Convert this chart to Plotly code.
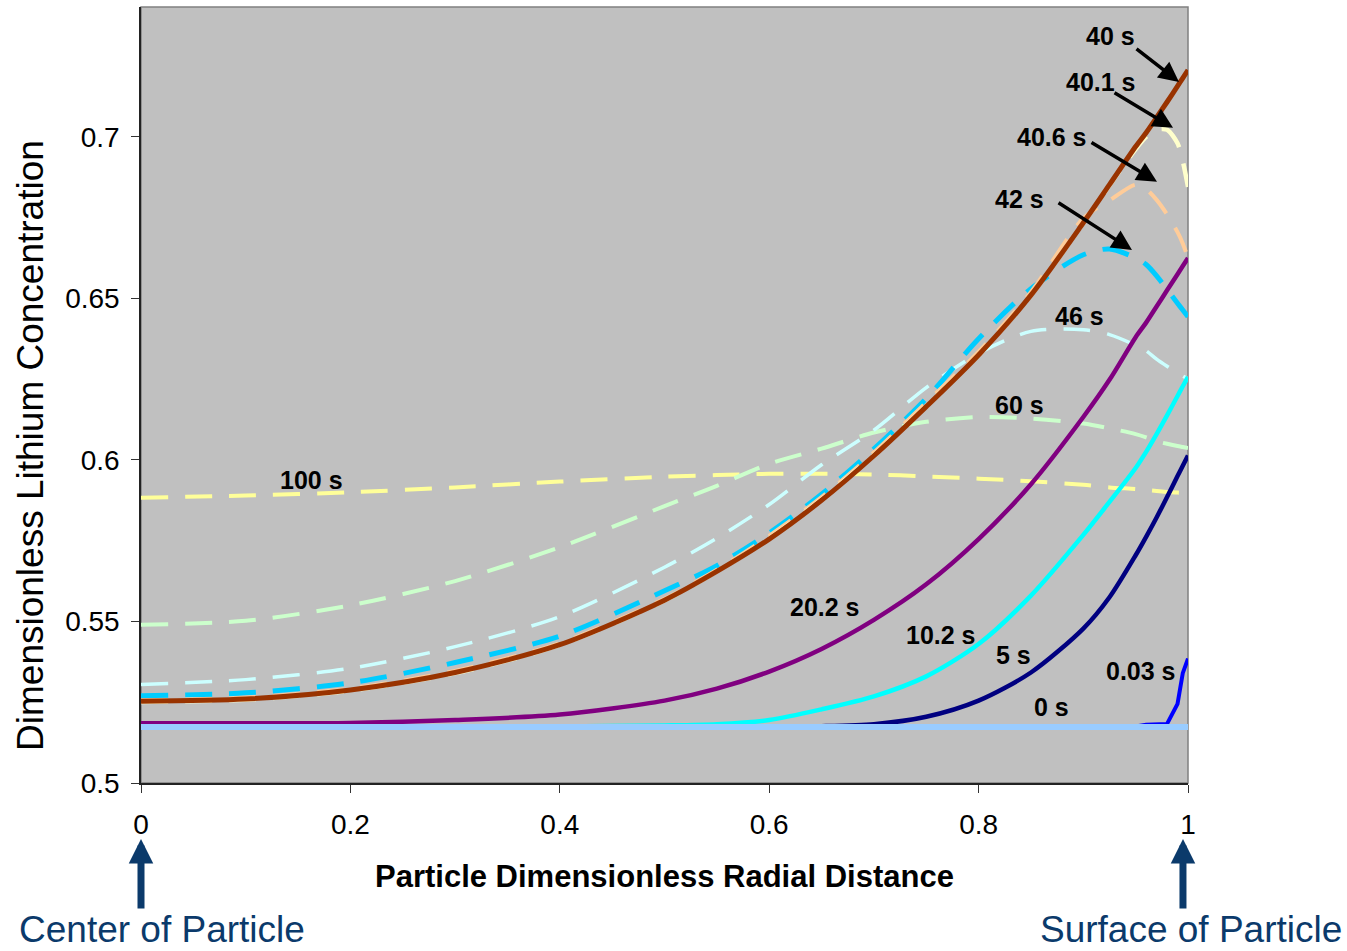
import plotly.graph_objects as go

# Particle dimensionless radial distance (shared grid)
r = [0, 0.1, 0.2, 0.3, 0.4, 0.5, 0.55, 0.6, 0.65, 0.7, 0.75, 0.8, 0.85, 0.9,
     0.925, 0.95, 0.96, 0.97, 0.98, 0.99, 0.995, 1.0]

# Dimensionless lithium concentration profiles
c_0s = [0.5173, 0.5173, 0.5173, 0.5173, 0.5173, 0.5173, 0.5173, 0.5173, 0.5173, 0.5173, 0.5173,
        0.5173, 0.5173, 0.5173, 0.5173, 0.5173, 0.5173, 0.5173, 0.5173, 0.5173, 0.5173, 0.5173]
c_003s = [0.5175, 0.5175, 0.5175, 0.5175, 0.5175, 0.5175, 0.5175, 0.5175, 0.5175, 0.5175, 0.5175,
          0.5175, 0.5175, 0.5175, 0.5175, 0.5175, 0.518, 0.5182, 0.5183, 0.5245, 0.534, 0.5385]
c_5s = [0.5175, 0.5175, 0.5175, 0.5175, 0.5175, 0.5175, 0.5175, 0.5175, 0.5176, 0.5182, 0.5205,
        0.5255, 0.5342, 0.5478, 0.5575, 0.5705, 0.5762, 0.5822, 0.5885, 0.595, 0.5982, 0.6014]
c_10s = [0.5175, 0.5175, 0.5175, 0.5175, 0.5175, 0.5178, 0.5182, 0.5195, 0.5228, 0.5268, 0.533,
         0.543, 0.558, 0.5768, 0.587, 0.5975, 0.6025, 0.608, 0.6138, 0.6198, 0.6228, 0.6257]
c_20s = [0.5185, 0.5185, 0.5186, 0.5195, 0.5212, 0.5255, 0.5292, 0.5345, 0.5415, 0.5505, 0.5615,
         0.5755, 0.5925, 0.6133, 0.6248, 0.638, 0.6425, 0.6475, 0.6525, 0.6575, 0.66, 0.6625]
c_40s = [0.5253, 0.526, 0.5288, 0.5342, 0.5428, 0.5566, 0.5655, 0.5755, 0.5875, 0.6013, 0.6165,
         0.6325, 0.651, 0.6734, 0.6852, 0.697, 0.7013, 0.706, 0.7108, 0.7157, 0.7182, 0.7207]
c_401s = [0.5251, 0.5258, 0.5286, 0.534, 0.5427, 0.5565, 0.5655, 0.5757, 0.5878, 0.6015, 0.6168,
          0.6325, 0.651, 0.6733, 0.685, 0.6962, 0.70, 0.7022, 0.7022, 0.698, 0.6925, 0.6845]
c_406s = [0.5256, 0.5264, 0.5292, 0.5347, 0.5433, 0.557, 0.566, 0.5765, 0.5885, 0.6023, 0.6178,
          0.6335, 0.652, 0.6748, 0.6803, 0.6852, 0.6838, 0.6805, 0.676, 0.6705, 0.667, 0.6625]
c_42s = [0.527, 0.5279, 0.531, 0.5373, 0.5455, 0.5595, 0.5673, 0.5774, 0.5894, 0.6034, 0.619,
         0.6375, 0.653, 0.6635, 0.6653, 0.6625, 0.6605, 0.657, 0.6528, 0.6485, 0.6464, 0.6443]
c_46s = [0.5305, 0.532, 0.5355, 0.5422, 0.5515, 0.5668, 0.5758, 0.5862, 0.5985, 0.6092, 0.6224,
         0.633, 0.6398, 0.6403, 0.6388, 0.6355, 0.6338, 0.6312, 0.629, 0.627, 0.626, 0.625]
c_60s = [0.549, 0.5502, 0.555, 0.5625, 0.573, 0.5857, 0.592, 0.5988, 0.6035, 0.6085, 0.6118,
         0.6133, 0.6128, 0.6113, 0.6098, 0.608, 0.607, 0.6058, 0.605, 0.6043, 0.604, 0.6037]
c_100s = [0.5883, 0.589, 0.59, 0.5915, 0.5933, 0.5948, 0.5953, 0.5957, 0.5957, 0.5955, 0.5949,
          0.5942, 0.5934, 0.5923, 0.5915, 0.591, 0.5907, 0.5904, 0.5901, 0.5899, 0.5898, 0.5897]

FONT = "Liberation Sans, Arial, sans-serif"
NAVY = "#0B3A6B"
DASH = "27px,17px"
SMOOTH = 0.8

fig = go.Figure()

dashed = [
    ("100 s", c_100s, "#FFFF99", 4),
    ("60 s", c_60s, "#CCFFCC", 4),
    ("46 s", c_46s, "#CCFFFF", 3.5),
    ("42 s", c_42s, "#00CCFF", 5),
    ("40.6 s", c_406s, "#FFCC99", 4),
    ("40.1 s", c_401s, "#FFFFCC", 4.5),
]
for name, vals, col, w in dashed:
    fig.add_trace(go.Scatter(x=r, y=vals, mode="lines", name=name,
                             line=dict(color=col, width=w, dash=DASH, shape="spline",
                                       smoothing=SMOOTH)))

solid = [
    ("40 s", c_40s, "#993300", 5, "spline"),
    ("20.2 s", c_20s, "#800080", 4.5, "spline"),
    ("10.2 s", c_10s, "#00FFFF", 4.5, "spline"),
    ("5 s", c_5s, "#000080", 4.5, "spline"),
    ("0.03 s", c_003s, "#0000FF", 4, "linear"),
    ("0 s", c_0s, "#99CCFF", 6, "linear"),
]
for name, vals, col, w, shp in solid:
    ln = dict(color=col, width=w, shape=shp)
    if shp == "spline":
        ln["smoothing"] = SMOOTH
    fig.add_trace(go.Scatter(x=r, y=vals, mode="lines", name=name, line=ln))

# Curve labels (text positions in data coordinates)
labels = [
    ("40 s", 0.9255, 0.7313), ("40.1 s", 0.917, 0.717), ("40.6 s", 0.8705, 0.7),
    ("42 s", 0.8395, 0.6808), ("46 s", 0.8968, 0.6446), ("60 s", 0.8395, 0.617),
    ("100 s", 0.1624, 0.5938), ("20.2 s", 0.6533, 0.5545), ("10.2 s", 0.764, 0.5458),
    ("5 s", 0.8329, 0.5396), ("0.03 s", 0.9552, 0.5347), ("0 s", 0.8701, 0.5235),
]
annotations = []
for txt, lx, ly in labels:
    annotations.append(dict(x=lx, y=ly, xref="x", yref="y", text="<b>%s</b>" % txt,
                            showarrow=False, font=dict(family=FONT, size=25, color="black"),
                            xanchor="center", yanchor="middle"))

# Black pointer arrows: (head x, head y, tail x, tail y)
pointers = [
    (0.9914, 0.717, 0.9494, 0.7276),
    (0.9857, 0.7028, 0.9284, 0.7139),
    (0.9704, 0.6861, 0.9064, 0.6985),
    (0.9465, 0.665, 0.8749, 0.6799),
]
for hx, hy, tx, ty in pointers:
    annotations.append(dict(x=hx, y=hy, xref="x", yref="y", ax=tx, ay=ty, axref="x", ayref="y",
                            text="", showarrow=True, arrowhead=2, arrowsize=1.15, arrowwidth=3.5,
                            arrowcolor="black", standoff=0))

# Axis titles
annotations.append(dict(x=0.5, y=-0.1211, xref="paper", yref="paper",
                        text="<b>Particle Dimensionless Radial Distance</b>", showarrow=False,
                        font=dict(family=FONT, size=31, color="black"),
                        xanchor="center", yanchor="middle"))
annotations.append(dict(x=-0.1051, y=0.4356, xref="paper", yref="paper",
                        text="Dimensionless Lithium Concentration", showarrow=False, textangle=-90,
                        font=dict(family=FONT, size=37, color="black"),
                        xanchor="center", yanchor="middle"))

# Center / surface notes with navy arrows
for ax_x in (0.0, 0.9952):
    annotations.append(dict(x=ax_x, y=-0.0722, xref="x", yref="paper", ax=0, ay=71, text="",
                            showarrow=True, arrowhead=2, arrowsize=0.7, arrowwidth=7,
                            arrowcolor=NAVY, standoff=0))
annotations.append(dict(x=(161.5 - 141) / 1047, y=(783 - 929) / 776, xref="paper", yref="paper",
                        text="Center of Particle", showarrow=False,
                        font=dict(family=FONT, size=37, color=NAVY),
                        xanchor="center", yanchor="middle"))
annotations.append(dict(x=(1191 - 141) / 1047, y=(783 - 929) / 776, xref="paper", yref="paper",
                        text="Surface of Particle", showarrow=False,
                        font=dict(family=FONT, size=37, color=NAVY),
                        xanchor="center", yanchor="middle"))

fig.update_layout(
    width=1347, height=951,
    margin=dict(l=141, r=159, t=7, b=168),
    paper_bgcolor="white", plot_bgcolor="#C0C0C0",
    showlegend=False,
    font=dict(family=FONT, color="black"),
    annotations=annotations,
    shapes=[dict(type="rect", xref="paper", yref="paper", x0=0, x1=1, y0=0, y1=1,
                 line=dict(color="#808080", width=1.5), layer="below")],
)
fig.update_xaxes(range=[0, 1], tickvals=[0, 0.2, 0.4, 0.6, 0.8, 1.0],
                 ticktext=["0", "0.2", "0.4", "0.6", "0.8", "1"],
                 ticks="outside", ticklen=8, tickcolor="#333333", tickwidth=1,
                 showline=True, linecolor="#222222", linewidth=1.5,
                 showgrid=False, zeroline=False, tickfont=dict(family=FONT, size=28),
                 ticklabelstandoff=8)
fig.update_yaxes(range=[0.5, 0.7402], tickvals=[0.5, 0.55, 0.6, 0.65, 0.7],
                 ticktext=["0.5", "0.55", "0.6", "0.65", "0.7"],
                 ticks="outside", ticklen=8, tickcolor="#333333", tickwidth=1,
                 showline=True, linecolor="#222222", linewidth=1.5,
                 showgrid=False, zeroline=False, tickfont=dict(family=FONT, size=28),
                 ticklabelstandoff=6)

fig.write_html("out.html")
